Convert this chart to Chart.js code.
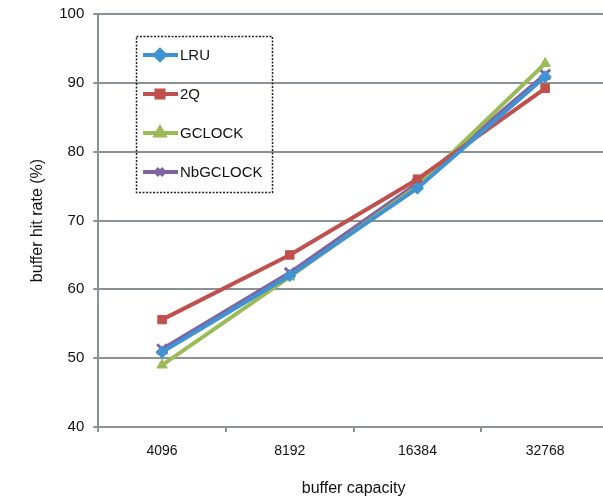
<!DOCTYPE html>
<html>
<head>
<meta charset="utf-8">
<script src="https://cdn.jsdelivr.net/npm/chart.js@4/dist/chart.umd.min.js"></script>
<style>
  html, body { margin: 0; padding: 0; background: #fff; overflow: hidden; }
  #wrap { position: relative; width: 619px; height: 506px; margin-top: -4px; }
</style>
</head>
<body>
<div id="wrap"><canvas id="chart" width="619" height="506"></canvas></div>
<script>
// chart data
const capacities = ['4096', '8192', '16384', '32768'];
const lru = [50.9, 62.0, 74.7, 90.9];
const twoQ = [55.6, 65.0, 76.0, 89.2];
const gclock = [49.0, 61.8, 75.0, 92.8];
const nbgclock = [51.3, 62.4, 75.4, 91.2];

const seriesNames = ['LRU', '2Q', 'GCLOCK', 'NbGCLOCK'];
const seriesData = [lru, twoQ, gclock, nbgclock];
const colors = ['#3f93d3', '#c0504d', '#9bbb59', '#8064a2'];
const shapes = ['rectRot', 'rect', 'triangle', 'crossRot'];
const FONT = 'Liberation Sans, Arial, sans-serif';
const AXIS = '#8c9196';
const SHIFT = 4; // wrapper is pulled up by this much

// draws the dotted legend box inside the plot
const boxLegend = {
  id: 'boxLegend',
  afterDraw(chart) {
    const ctx = chart.ctx;
    const x0 = 136, y0 = 36 + SHIFT, w = 136, h = 156;
    ctx.save();
    ctx.strokeStyle = '#222';
    ctx.lineWidth = 1.5;
    ctx.setLineDash([2, 1.5]);
    ctx.strokeRect(x0 + 0.5, y0 + 0.5, w, h);
    ctx.setLineDash([]);
    chart.data.datasets.forEach((ds, i) => {
      const y = 55 + SHIFT + i * 39;
      ctx.strokeStyle = ds.borderColor;
      ctx.lineWidth = 4;
      ctx.beginPath();
      ctx.moveTo(143, y);
      ctx.lineTo(178, y);
      ctx.stroke();
      Chart.helpers.drawPoint(ctx, {
        pointStyle: ds.pointStyle, radius: 5, borderWidth: ds.pointStyle === 'crossRot' ? 3 : 1
      }, 160, y);
      ctx.fillStyle = ds.borderColor;
      ctx.fill();
      ctx.fillStyle = '#111';
      ctx.font = '15px ' + FONT;
      ctx.textBaseline = 'middle';
      ctx.fillText(ds.label, 180, y + 1);
    });
    ctx.restore();
  }
};

new Chart(document.getElementById('chart'), {
  type: 'line',
  data: {
    labels: capacities,
    datasets: seriesNames.map((name, i) => ({
      label: name,
      data: seriesData[i],
      borderColor: colors[i],
      backgroundColor: colors[i],
      borderWidth: 4,
      pointStyle: shapes[i],
      pointRadius: shapes[i] === 'crossRot' ? 7 : 6,
      pointBorderWidth: shapes[i] === 'crossRot' ? 3 : 1,
      pointBorderColor: colors[i],
      tension: 0
    }))
  },
  options: {
    responsive: false,
    animation: false,
    layout: { padding: { top: 1, right: 0, left: 28, bottom: 0 } },
    plugins: { legend: { display: false }, tooltip: { enabled: false } },
    scales: {
      x: {
        offset: true,
        grid: { display: true, drawOnChartArea: false, offset: true, color: AXIS, lineWidth: 2, tickLength: 5 },
        border: { color: AXIS, width: 2 },
        ticks: { color: '#111', font: { size: 14, family: FONT }, padding: 11 },
        title: { display: true, text: 'buffer capacity', color: '#111', font: { size: 16, family: FONT }, padding: { top: 8 } }
      },
      y: {
        min: 40, max: 100,
        ticks: { stepSize: 10, color: '#111', font: { size: 15, family: FONT }, padding: 9 },
        grid: { color: AXIS, lineWidth: 2, tickLength: 5 },
        border: { color: AXIS, width: 2 },
        title: { display: true, text: 'buffer hit rate (%)', color: '#111', font: { size: 16, family: FONT }, padding: { top: 0, bottom: 3 } }
      }
    }
  },
  plugins: [boxLegend]
});
</script>
</body>
</html>
